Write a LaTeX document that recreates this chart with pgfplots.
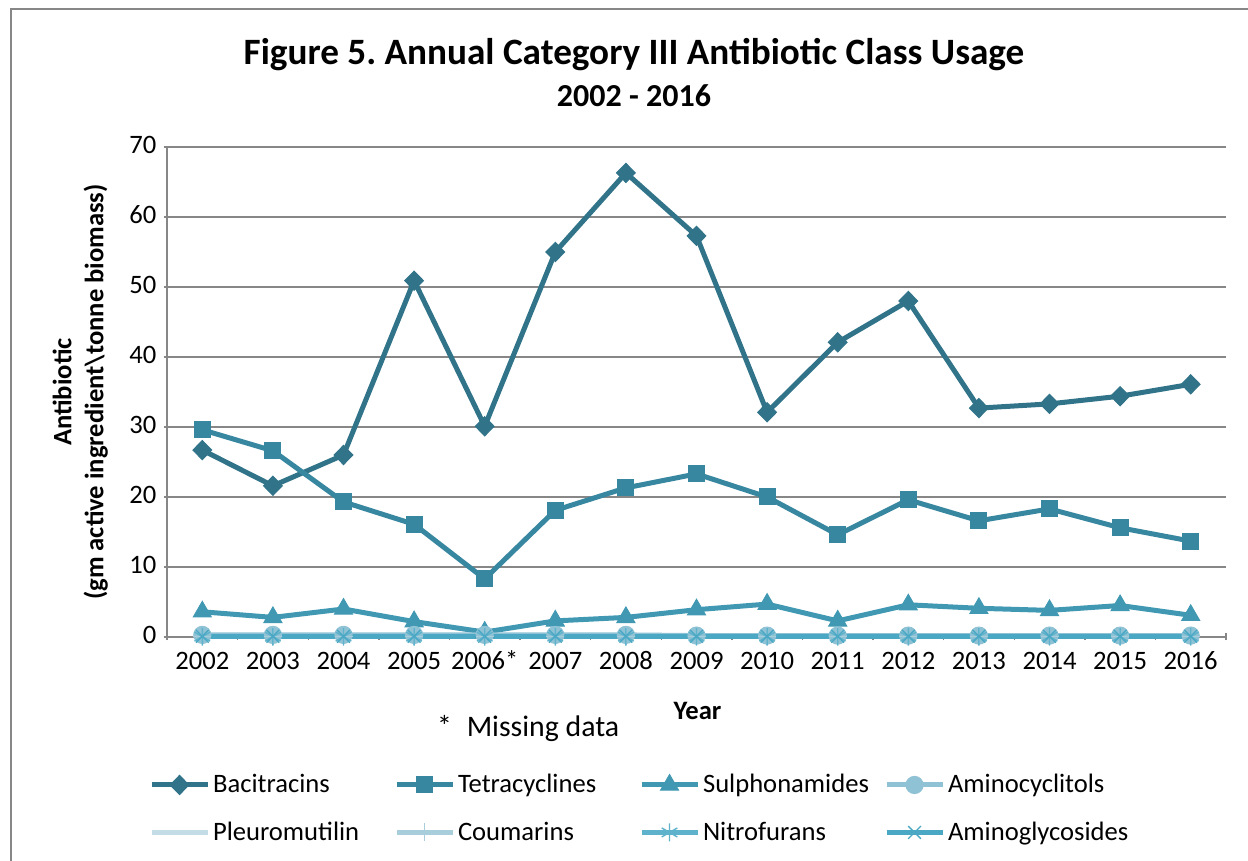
\documentclass[border=0pt]{standalone}
\usepackage{pgfplots}
\pgfplotsset{compat=1.18}
\usepackage{fontspec}
\setmainfont{Carlito}
\frenchspacing
\definecolor{cBac}{HTML}{31748A}
\definecolor{cTet}{HTML}{3887A0}
\definecolor{cSul}{HTML}{4098B2}
\definecolor{cAmc}{HTML}{8FC2D4}
\definecolor{cPle}{HTML}{C4DCE6}
\definecolor{cCou}{HTML}{A8CEDC}
\definecolor{cNit}{HTML}{5FB2CC}
\definecolor{cAmg}{HTML}{4BA8C4}
\definecolor{cGrid}{HTML}{878787}
\newcommand{\lfont}{\fontsize{13.3}{16}\selectfont}
\newcommand{\lent}[1]{\makebox[89pt][l]{#1}}
\begin{document}
\begin{tikzpicture}
\useasboundingbox (0pt,0pt) rectangle (624pt,430.5pt);
\draw[cGrid, line width=1pt] (5.5pt,-20pt) -- (5.5pt,426pt);
\draw[cGrid, line width=0.6pt] (5pt,426pt) -- (650pt,426pt);
\node[font=\fontsize{18.6}{22}\selectfont\bfseries] at (317pt,403pt) {Figure 5. Annual Category III Antibiotic Class Usage};
\node[font=\fontsize{16}{19}\selectfont\bfseries] at (317pt,382.5pt) {2002 - 2016};
\begin{axis}[
  at={(83.5pt,112pt)}, anchor=south west,
  scale only axis, width=529.5pt, height=245pt,
  xmin=-0.5, xmax=14.5, ymin=0, ymax=70,
  ytick={0,10,...,70},
  xtick={0,...,14},
  xticklabels={2002,2003,2004,2005,2006*,2007,2008,2009,2010,2011,2012,2013,2014,2015,2016},
  minor xtick={-0.5,0.5,...,14.5},
  every major x tick/.append style={draw=none},
  tick align=outside,
  major tick length=3.5pt, minor tick length=3.5pt,
  tick style={cGrid, line width=0.7pt},
  axis lines=left,
  axis line style={cGrid, line width=0.8pt, -},
  ymajorgrids,
  grid style={cGrid, line width=0.75pt},
  /pgf/number format/assume math mode=true,
  ticklabel style={font=\lfont},
  typeset ticklabels with strut,
  xlabel={Year},
  xlabel style={font=\lfont\bfseries, at={(axis description cs:0.501,-0.151)}, anchor=center},
  ylabel={Antibiotic\\(gm active ingredient\textbackslash tonne biomass)},
  ylabel style={font=\lfont\bfseries, align=center, at={(axis description cs:-0.082,0.5)}, anchor=center, rotate=0},
  legend columns=4,
  legend style={draw=none, font=\lfont, at={(axis description cs:-0.023,-0.265)}, anchor=north west,
    nodes={inner sep=1.5pt}, /tikz/row sep=10pt, /tikz/column sep=0pt},
  legend cell align=left,
  legend image code/.code={\draw[mark repeat=2,mark phase=2] plot coordinates {(0pt,0pt)(14pt,0pt)(28pt,0pt)};},
  clip=false,
]
\addplot[color=cBac, line width=2.5pt, mark=diamond*, mark size=4.8pt, mark options={solid, line width=0.5pt, xscale=1.3}] coordinates {
(0,26.7)(1,21.6)(2,26.0)(3,50.9)(4,30.1)(5,55.0)(6,66.3)(7,57.3)(8,32.1)(9,42.1)(10,48.0)(11,32.7)(12,33.3)(13,34.4)(14,36.1)};
\addlegendentry{\lent{Bacitracins}}
\addplot[color=cTet, line width=2.5pt, mark=square*, mark size=4pt, mark options={solid, line width=0.5pt}] coordinates {
(0,29.6)(1,26.6)(2,19.3)(3,16.1)(4,8.3)(5,18.1)(6,21.3)(7,23.3)(8,20.0)(9,14.6)(10,19.6)(11,16.6)(12,18.3)(13,15.6)(14,13.7)};
\addlegendentry{\lent{Tetracyclines}}
\addplot[color=cSul, line width=2.5pt, mark=triangle*, mark size=5.2pt, mark options={solid, line width=0.5pt}] coordinates {
(0,3.6)(1,2.8)(2,4.0)(3,2.2)(4,0.7)(5,2.3)(6,2.8)(7,3.9)(8,4.7)(9,2.3)(10,4.6)(11,4.1)(12,3.8)(13,4.5)(14,3.1)};
\addlegendentry{\lent{Sulphonamides}}
\addplot[color=cAmc, line width=2.5pt, mark=*, mark size=4.3pt, mark options={solid, line width=0.5pt}] coordinates {
(0,0.3)(1,0.3)(2,0.3)(3,0.3)(4,0.3)(5,0.3)(6,0.3)(7,0.2)(8,0.2)(9,0.2)(10,0.2)(11,0.2)(12,0.2)(13,0.2)(14,0.2)};
\addlegendentry{\lent{Aminocyclitols}}
\addplot[color=cPle, line width=2.5pt] coordinates {
(0,0.1)(1,0.1)(2,0.1)(3,0.1)(4,0.1)(5,0.1)(6,0.1)(7,0.1)(8,0.1)(9,0.1)(10,0.1)(11,0.1)(12,0.1)(13,0.1)(14,0.1)};
\addlegendentry{\lent{Pleuromutilin}}
\addplot[color=cCou, line width=2.5pt, mark=+, mark size=4.5pt, mark options={solid, line width=0.7pt}] coordinates {
(0,0.1)(1,0.1)(2,0.1)(3,0.1)(4,0.1)(5,0.1)(6,0.1)(7,0.1)(8,0.1)(9,0.1)(10,0.1)(11,0.1)(12,0.1)(13,0.1)(14,0.1)};
\addlegendentry{\lent{Coumarins}}
\addplot[color=cNit, line width=2.5pt, mark=asterisk, mark size=4.5pt, mark options={solid, line width=0.7pt}] coordinates {
(0,0.05)(1,0.05)(2,0.05)(3,0.05)(4,0.05)(5,0.05)(6,0.05)(7,0.05)(8,0.05)(9,0.05)(10,0.05)(11,0.05)(12,0.05)(13,0.05)(14,0.05)};
\addlegendentry{\lent{Nitrofurans}}
\addplot[color=cAmg, line width=2.5pt, mark=x, mark size=4.5pt, mark options={solid, line width=0.7pt}] coordinates {
(0,0.1)(1,0.1)(2,0.1)(3,0.1)(4,0.1)(5,0.1)(6,0.1)(7,0.1)(8,0.1)(9,0.1)(10,0.1)(11,0.1)(12,0.1)(13,0.1)(14,0.1)};
\addlegendentry{Aminoglycosides}
\node[font=\fontsize{14.9}{18}\selectfont, anchor=center] at (axis description cs:0.341,-0.186) {*\hspace{0.5em}Missing data};
\end{axis}
\end{tikzpicture}
\end{document}
